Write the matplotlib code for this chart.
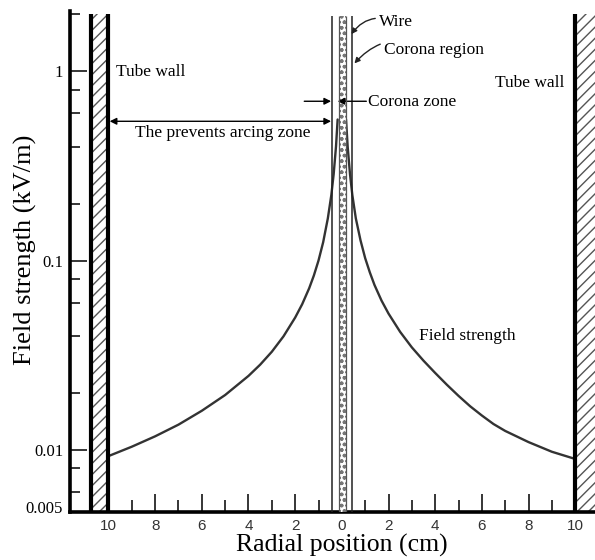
import matplotlib
matplotlib.use("Agg")
import matplotlib.pyplot as plt
from matplotlib.ticker import FixedLocator, FuncFormatter, NullFormatter

# Field strength across the tube, read on both sides of the wire (cm, kV/m)
left_r = [-9.95, -9.0, -8.0, -7.0, -6.0, -5.0, -4.0, -3.5, -3.0, -2.5,
          -2.0, -1.7, -1.4, -1.2, -1.0, -0.8, -0.6, -0.45, -0.35, -0.25,
          -0.18]
left_E = [0.00933, 0.0104, 0.0118, 0.0136, 0.0161, 0.0195, 0.0246, 0.0282,
          0.0330, 0.0398, 0.0500, 0.0588, 0.0714, 0.0833, 0.100, 0.125,
          0.167, 0.222, 0.286, 0.400, 0.556]
right_r = [0.18, 0.25, 0.35, 0.45, 0.6, 0.8, 1.0, 1.2, 1.4, 1.7, 2.0, 2.5,
           3.0, 3.5, 4.0, 4.5, 5.0, 5.5, 6.0, 6.5, 7.0, 8.0, 9.0, 9.95]
right_E = [0.556, 0.400, 0.286, 0.222, 0.167, 0.128, 0.103, 0.0866, 0.0743,
           0.0615, 0.0525, 0.0420, 0.0348, 0.0296, 0.0255, 0.0221, 0.0193,
           0.0170, 0.0152, 0.0137, 0.0126, 0.0110, 0.00978, 0.00900]

# Geometry of the precipitator (cm)
tube_radius = 10.0
wall_thickness = 0.75
corona_radius = 0.43
wire_radius = 0.13

# Axis ticks
x_major = [-10, -8, -6, -4, -2, 0, 2, 4, 6, 8, 10]
x_minor = [-9, -7, -5, -3, -1, 1, 3, 5, 7, 9]
y_major = [0.005, 0.01, 0.1, 1]
y_major_labels = ["0.005", "0.01", "0.1", "1"]
y_minor = [0.006, 0.008, 0.02, 0.04, 0.06, 0.08, 0.2, 0.4, 0.6, 0.8, 2]

serif = "Liberation Serif"
ink = "#222222"

fig = plt.figure(figsize=(5.95, 5.6), dpi=100)
ax = fig.add_axes([70 / 595, 48 / 560, 525 / 595, 501 / 560])
ax.set_yscale("log")
ax.set_xlim(-11.65, 10.85)
ax.set_ylim(0.0047, 2.08)

for side in ("top", "right"):
    ax.spines[side].set_visible(False)
for side in ("left", "bottom"):
    ax.spines[side].set_linewidth(2.6)
    ax.spines[side].set_color("black")

wall_top = 2.0

# Tube walls
for x0, x1 in ((-tube_radius - wall_thickness, -tube_radius),
               (tube_radius, tube_radius + wall_thickness + 0.3)):
    ax.fill_betweenx([0.0047, wall_top], x0, x1, facecolor="white",
                     edgecolor="#555555", hatch="///", linewidth=0, zorder=2)
ax.vlines([-tube_radius - wall_thickness, -tube_radius, tube_radius],
          0.0047, wall_top, colors="black", linewidth=3.0, zorder=3)

# Field strength curve
ax.plot(left_r, left_E, color="#333333", linewidth=1.7, zorder=2.5,
        solid_capstyle="round", solid_joinstyle="round")
ax.plot(right_r, right_E, color="#333333", linewidth=1.7, zorder=2.5,
        solid_capstyle="round", solid_joinstyle="round")

# Corona region boundaries and wire
ax.vlines([-corona_radius, corona_radius], 0.0047, 1.95,
          colors=ink, linewidth=1.1, zorder=3)
ax.fill_betweenx([0.0047, 1.95], -wire_radius, wire_radius + 0.05,
                 facecolor="white", edgecolor="#777777", hatch="ooo",
                 linewidth=0, zorder=3)
ax.vlines([-wire_radius, wire_radius + 0.05], 0.0047, 1.95,
          colors="#555555", linewidth=0.9, zorder=3.5)

# Ticks
ax.xaxis.set_major_locator(FixedLocator(x_major))
ax.xaxis.set_minor_locator(FixedLocator(x_minor))
ax.xaxis.set_major_formatter(FuncFormatter(lambda v, p: f"{abs(v):g}"))
ax.tick_params(axis="x", which="major", direction="in", length=13,
               width=1.1, pad=5, labelsize=11, labelcolor="#333333")
ax.tick_params(axis="x", which="minor", direction="in", length=8.5,
               width=1.1)
for lab in ax.get_xticklabels():
    lab.set_family("Liberation Sans")

ax.yaxis.set_major_locator(FixedLocator(y_major))
ax.yaxis.set_major_formatter(FuncFormatter(
    lambda v, p: y_major_labels[y_major.index(v)] if v in y_major else ""))
ax.yaxis.set_minor_locator(FixedLocator(y_minor))
ax.yaxis.set_minor_formatter(NullFormatter())
ax.tick_params(axis="y", which="major", direction="in", length=12,
               width=1.1, pad=5, labelsize=12)
ax.tick_params(axis="y", which="minor", direction="in", length=7,
               width=1.1)
for lab in ax.get_yticklabels():
    lab.set_family(serif)
for t in ax.yaxis.get_major_ticks():
    if t.get_loc() == 0.005:
        t.tick1line.set_visible(False)

ax.set_xlabel("Radial position (cm)", fontsize=18.5, family=serif)
ax.xaxis.set_label_coords(0.518, -0.044)
ax.set_ylabel("Field strength (kV/m)", fontsize=19, family=serif)
ax.yaxis.set_label_coords(-0.062, 0.523)

# Annotations
txt = dict(fontsize=12.5, family=serif, color="black", zorder=5)
ax.text(-9.66, 0.988, "Tube wall", ha="left", va="center", **txt)
ax.text(9.53, 0.864, "Tube wall", ha="right", va="center", **txt)
ax.text(3.32, 0.0401, "Field strength", ha="left", va="center", **txt)
ax.text(-5.12, 0.47, "The prevents arcing zone", ha="center", va="center",
        **txt)
ax.text(1.13, 0.685, "Corona zone", ha="left", va="center", **txt)

ax.annotate("Wire", xy=(0.41, 1.57), xytext=(1.61, 1.816),
            ha="left", va="center", fontsize=12.5, family=serif,
            arrowprops=dict(arrowstyle="-|>", color=ink, lw=1.0,
                            mutation_scale=8, shrinkA=1, shrinkB=0,
                            connectionstyle="arc3,rad=0.4"))
ax.annotate("Corona region", xy=(0.54, 1.10), xytext=(1.82, 1.29),
            ha="left", va="center", fontsize=12.5, family=serif,
            arrowprops=dict(arrowstyle="-|>", color=ink, lw=1.0,
                            mutation_scale=8, shrinkA=1, shrinkB=0,
                            connectionstyle="arc3,rad=0.4"))

arrow_y = 0.694
ax.annotate("", xy=(-corona_radius - 0.03, arrow_y), xytext=(-1.61, arrow_y),
            arrowprops=dict(arrowstyle="-|>", color="black", lw=1.0,
                            mutation_scale=10, shrinkA=0, shrinkB=0))
ax.annotate("", xy=(-wire_radius - 0.05, arrow_y), xytext=(1.05, arrow_y),
            arrowprops=dict(arrowstyle="-|>", color="black", lw=1.0,
                            mutation_scale=10, shrinkA=0, shrinkB=0))
ax.annotate("", xy=(-corona_radius - 0.03, 0.544),
            xytext=(-tube_radius + 0.05, 0.544),
            arrowprops=dict(arrowstyle="<|-|>", color="black", lw=1.0,
                            mutation_scale=10, shrinkA=0, shrinkB=0))

fig.savefig("out.png", dpi=100)
